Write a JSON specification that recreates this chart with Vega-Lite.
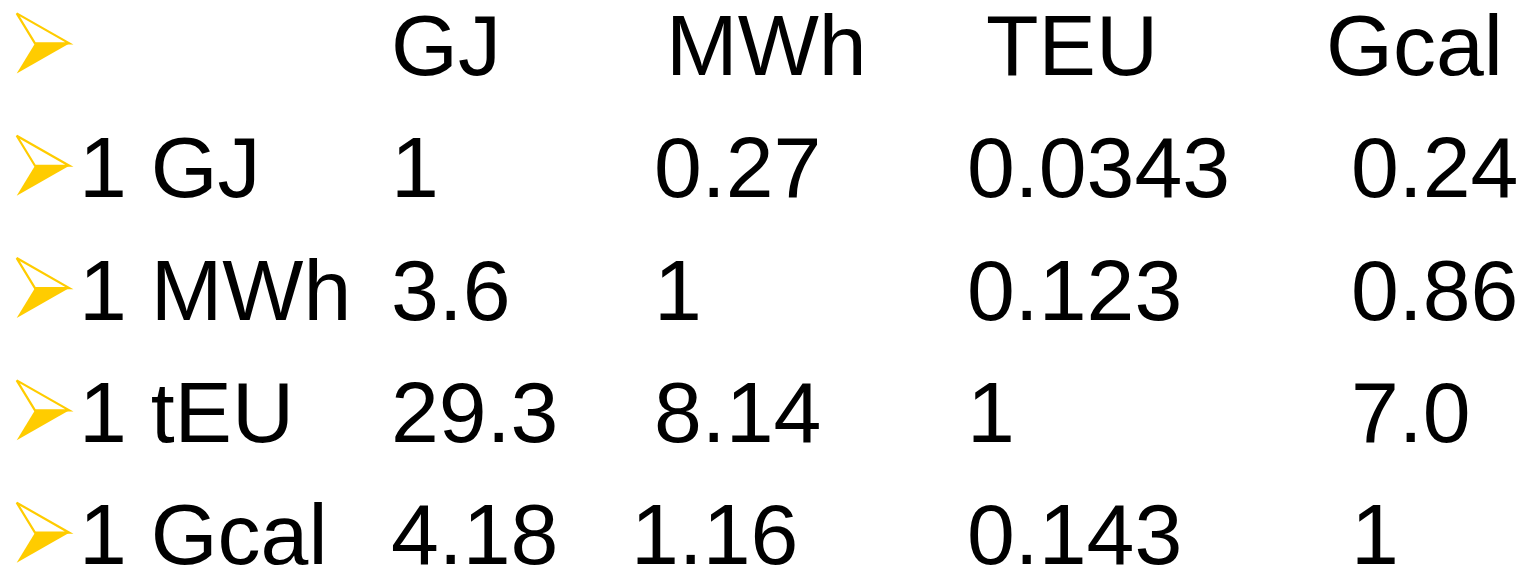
{
  "$schema": "https://vega.github.io/schema/vega-lite/v6.json",
  "padding": 0,
  "spacing": 0,
  "bounds": "flush",
  "background": "white",
  "config": {
    "view": {"stroke": null},
    "text": {"font": "Liberation Sans", "fontSize": 86, "align": "left", "baseline": "alphabetic", "color": "#000000"}
  },
  "data": {
    "values": [
      {"row": 0, "col": "label", "text": ""},
      {"row": 0, "col": "GJ", "text": "GJ"},
      {"row": 0, "col": "MWh", "text": "MWh"},
      {"row": 0, "col": "TEU", "text": "TEU"},
      {"row": 0, "col": "Gcal", "text": "Gcal"},
      {"row": 1, "col": "label", "text": "1 GJ"},
      {"row": 1, "col": "GJ", "text": "1"},
      {"row": 1, "col": "MWh", "text": "0.27"},
      {"row": 1, "col": "TEU", "text": "0.0343"},
      {"row": 1, "col": "Gcal", "text": "0.24"},
      {"row": 2, "col": "label", "text": "1 MWh"},
      {"row": 2, "col": "GJ", "text": "3.6"},
      {"row": 2, "col": "MWh", "text": "1"},
      {"row": 2, "col": "TEU", "text": "0.123"},
      {"row": 2, "col": "Gcal", "text": "0.86"},
      {"row": 3, "col": "label", "text": "1 tEU"},
      {"row": 3, "col": "GJ", "text": "29.3"},
      {"row": 3, "col": "MWh", "text": "8.14"},
      {"row": 3, "col": "TEU", "text": "1"},
      {"row": 3, "col": "Gcal", "text": "7.0"},
      {"row": 4, "col": "label", "text": "1 Gcal"},
      {"row": 4, "col": "GJ", "text": "4.18"},
      {"row": 4, "col": "MWh", "text": "1.16"},
      {"row": 4, "col": "TEU", "text": "0.143"},
      {"row": 4, "col": "Gcal", "text": "1"}
    ]
  },
  "hconcat": [
    {
      "width": 79, "height": 570,
      "transform": [{"filter": "datum.col === 'label'"}],
      "encoding": {
        "y": {"field": "row", "type": "ordinal", "axis": null, "scale": {"type": "point", "domain": [0, 1, 2, 3, 4], "padding": 0.33, "align": 0.928}}
      },
      "layer": [
        {"mark": {"type": "point", "shape": "M-0.267,0L0.877,0L-0.877,1Z", "filled": true, "color": "#FFCC00", "opacity": 1, "size": 3600, "strokeWidth": 0, "xOffset": 3.5, "yOffset": -31.5}},
        {"mark": {"type": "point", "shape": "M-0.877,-1L0.877,0L-0.267,0Z", "filled": false, "color": "#FFCC00", "opacity": 1, "size": 3600, "strokeWidth": 2.2, "xOffset": 3.5, "yOffset": -31.5}}
      ]
    },
    {
      "width": 312, "height": 570,
      "transform": [{"filter": "datum.col === 'label'"}],
      "mark": "text",
      "encoding": {
        "x": {"field": "col", "type": "nominal", "axis": null, "scale": {"type": "point", "padding": 0, "align": 0}},
        "y": {"field": "row", "type": "ordinal", "axis": null, "scale": {"type": "point", "domain": [0, 1, 2, 3, 4], "padding": 0.33, "align": 0.928}},
        "text": {"field": "text"}
      }
    },
    {
      "width": 263, "height": 570,
      "transform": [{"filter": "datum.col === 'GJ'"}],
      "mark": "text",
      "encoding": {
        "x": {"field": "col", "type": "nominal", "axis": null, "scale": {"type": "point", "padding": 0, "align": 0}},
        "y": {"field": "row", "type": "ordinal", "axis": null, "scale": {"type": "point", "domain": [0, 1, 2, 3, 4], "padding": 0.33, "align": 0.928}},
        "text": {"field": "text"}
      }
    },
    {
      "width": 313, "height": 570,
      "transform": [{"filter": "datum.col === 'MWh'"}],
      "encoding": {
        "x": {"field": "col", "type": "nominal", "axis": null, "scale": {"type": "point", "padding": 0, "align": 0}},
        "y": {"field": "row", "type": "ordinal", "axis": null, "scale": {"type": "point", "domain": [0, 1, 2, 3, 4], "padding": 0.33, "align": 0.928}},
        "text": {"field": "text"}
      },
      "layer": [
        {"transform": [{"filter": "datum.row === 0"}], "mark": {"type": "text", "dx": 12}},
        {"transform": [{"filter": "datum.row > 0 && datum.row < 4"}], "mark": "text"},
        {"transform": [{"filter": "datum.row === 4"}], "mark": {"type": "text", "dx": -23}}
      ]
    },
    {
      "width": 384, "height": 570,
      "transform": [{"filter": "datum.col === 'TEU'"}],
      "encoding": {
        "x": {"field": "col", "type": "nominal", "axis": null, "scale": {"type": "point", "padding": 0, "align": 0}},
        "y": {"field": "row", "type": "ordinal", "axis": null, "scale": {"type": "point", "domain": [0, 1, 2, 3, 4], "padding": 0.33, "align": 0.928}},
        "text": {"field": "text"}
      },
      "layer": [
        {"transform": [{"filter": "datum.row === 0"}], "mark": {"type": "text", "dx": 19}},
        {"transform": [{"filter": "datum.row > 0"}], "mark": "text"}
      ]
    },
    {
      "width": 174, "height": 570,
      "transform": [{"filter": "datum.col === 'Gcal'"}],
      "encoding": {
        "x": {"field": "col", "type": "nominal", "axis": null, "scale": {"type": "point", "padding": 0, "align": 0}},
        "y": {"field": "row", "type": "ordinal", "axis": null, "scale": {"type": "point", "domain": [0, 1, 2, 3, 4], "padding": 0.33, "align": 0.928}},
        "text": {"field": "text"}
      },
      "layer": [
        {"transform": [{"filter": "datum.row === 0"}], "mark": {"type": "text", "dx": -25}},
        {"transform": [{"filter": "datum.row > 0"}], "mark": "text"}
      ]
    }
  ]
}
